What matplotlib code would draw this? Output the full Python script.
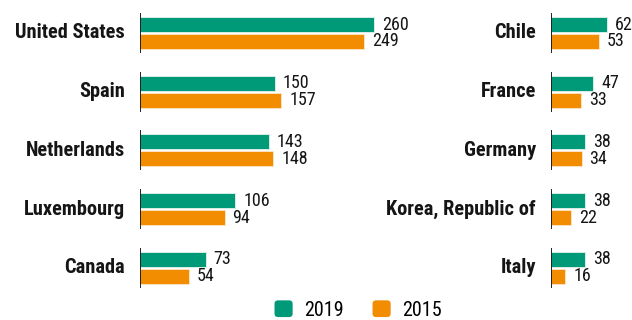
import numpy as np
import matplotlib.pyplot as plt
from matplotlib.patches import Patch, FancyBboxPatch
from matplotlib.legend_handler import HandlerPatch

plt.rcParams['font.family'] = ['Roboto Condensed', 'Liberation Sans']

left_countries = ['United States', 'Spain', 'Netherlands', 'Luxembourg', 'Canada']
left_2019 = [260, 150, 143, 106, 73]
left_2015 = [249, 157, 148, 94, 54]

right_countries = ['Chile', 'France', 'Germany', 'Korea, Republic of', 'Italy']
right_2019 = [62, 47, 38, 38, 38]
right_2015 = [53, 33, 34, 22, 16]

GREEN = '#009a78'
ORANGE = '#f28c00'

W, H = 632, 320
DPI = 100
PX_PER_UNIT = 0.9      # same scale on both panels
ROW_TOP = 33           # centre of first row, px from top
ROW_PITCH = 58.7
BAR_H = 15 / ROW_PITCH
BAR_OFF = 8.5 / ROW_PITCH


class RoundSquare(HandlerPatch):
    # legend key drawn as a small rounded square
    def create_artists(self, legend, orig_handle, xdescent, ydescent,
                       width, height, fontsize, trans):
        p = FancyBboxPatch((-xdescent, -ydescent), width, height,
                           boxstyle='round,pad=0,rounding_size=2.5',
                           facecolor=orig_handle.get_facecolor(),
                           edgecolor='none', transform=trans)
        return [p]


fig = plt.figure(figsize=(W / DPI, H / DPI), dpi=DPI)


def panel(x0_px, width_px, countries, v2019, v2015):
    ax = fig.add_axes([x0_px / W, 0, width_px / W, 1])
    ax.set_xlim(0, width_px / PX_PER_UNIT)
    ax.set_ylim((H - ROW_TOP) / ROW_PITCH, -ROW_TOP / ROW_PITCH)
    ax.axis('off')
    y = np.arange(len(countries))
    ax.barh(y - BAR_OFF, v2019, height=BAR_H, color=GREEN,
            edgecolor='#d8eee6', linewidth=0.7)
    ax.barh(y + BAR_OFF, v2015, height=BAR_H, color=ORANGE,
            edgecolor='#fbe3c4', linewidth=0.7)
    ax.vlines(np.zeros(len(y)), y - 20 / ROW_PITCH, y + 20 / ROW_PITCH,
              color='#111111', lw=1.3)
    off = 8 * 72 / DPI
    for i, name in enumerate(countries):
        ax.annotate(name, (0, i), xytext=(-15 * 72 / DPI, 0), textcoords='offset points',
                    ha='right', va='center', fontsize=14.7, fontweight='bold', color='#151515')
        ax.annotate(str(v2019[i]), (v2019[i], i - BAR_OFF), xytext=(off, 0),
                    textcoords='offset points', ha='left', va='center',
                    fontsize=13, color='#151515')
        ax.annotate(str(v2015[i]), (v2015[i], i + BAR_OFF), xytext=(off, 0),
                    textcoords='offset points', ha='left', va='center',
                    fontsize=13, color='#151515')
    return ax


panel(140, 260, left_countries, left_2019, left_2015)
panel(551, 81, right_countries, right_2019, right_2015)

handles = [Patch(facecolor=GREEN, label='2019'),
           Patch(facecolor=ORANGE, label='2015')]
fig.legend(handles=handles, loc='center', bbox_to_anchor=(358 / W, 1 - 310 / H),
           ncol=2, frameon=False, fontsize=14.5, handlelength=0.9, handleheight=0.9,
           handletextpad=0.55, columnspacing=1.45, borderpad=0,
           handler_map={Patch: RoundSquare()})

fig.savefig('out.png', dpi=DPI)
